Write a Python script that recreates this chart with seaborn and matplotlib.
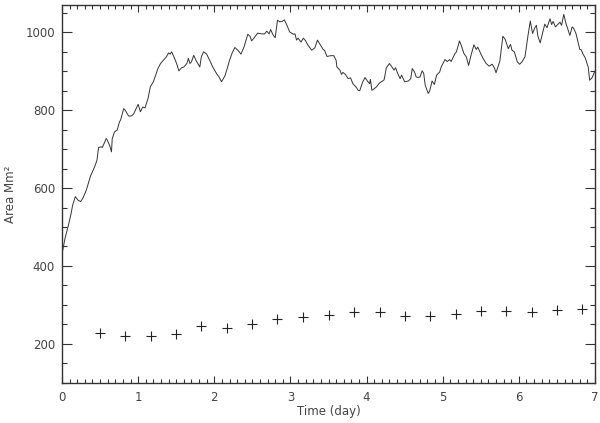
import matplotlib
matplotlib.use("Agg")
import matplotlib.pyplot as plt
import seaborn as sns
import pandas as pd
from matplotlib.ticker import MultipleLocator

# area curve (time in days, area in Mm^2)
time_day = [
    0.00, 0.04, 0.09, 0.12, 0.14, 0.175, 0.21, 0.245, 0.275, 0.32, 0.375, 0.43, 0.46, 0.48,
    0.515, 0.53, 0.58, 0.59, 0.625, 0.65, 0.66, 0.69, 0.725, 0.755, 0.77, 0.81, 0.83, 0.875,
    0.91, 0.94, 1.00, 1.03, 1.06, 1.09, 1.13, 1.16, 1.20, 1.23, 1.26, 1.295, 1.33, 1.37, 1.40,
    1.42, 1.44, 1.47, 1.505, 1.535, 1.57, 1.60, 1.64, 1.66, 1.68, 1.70, 1.73, 1.76, 1.81, 1.83,
    1.86, 1.90, 1.94, 1.98, 2.03, 2.06, 2.095, 2.14, 2.17, 2.20, 2.235, 2.27, 2.31, 2.35, 2.39,
    2.44, 2.47, 2.49, 2.52, 2.57, 2.62, 2.66, 2.69, 2.72, 2.74, 2.77, 2.80, 2.83, 2.86, 2.89,
    2.92, 2.95, 2.99, 3.04, 3.06, 3.08, 3.10, 3.14, 3.17, 3.20, 3.23, 3.28, 3.32, 3.355, 3.38,
    3.41, 3.43, 3.45, 3.48, 3.53, 3.57, 3.60, 3.61, 3.65, 3.67, 3.69, 3.72, 3.76, 3.79, 3.82,
    3.86, 3.89, 3.91, 3.95, 3.98, 4.01, 4.04, 4.05, 4.07, 4.10, 4.13, 4.17, 4.21, 4.23, 4.26,
    4.30, 4.33, 4.36, 4.38, 4.41, 4.44, 4.46, 4.50, 4.55, 4.58, 4.60, 4.63, 4.65, 4.67, 4.70,
    4.73, 4.75, 4.77, 4.81, 4.83, 4.86, 4.89, 4.92, 4.96, 4.98, 5.03, 5.06, 5.09, 5.11, 5.16,
    5.18, 5.22, 5.24, 5.28, 5.31, 5.34, 5.37, 5.41, 5.44, 5.46, 5.50, 5.53, 5.57, 5.61, 5.65,
    5.68, 5.70, 5.75, 5.79, 5.82, 5.86, 5.89, 5.91, 5.94, 5.98, 6.01, 6.04, 6.08, 6.12, 6.15,
    6.18, 6.21, 6.23, 6.25, 6.28, 6.32, 6.34, 6.37, 6.39, 6.41, 6.43, 6.45, 6.48, 6.51, 6.54,
    6.56, 6.59, 6.62, 6.67, 6.70, 6.72, 6.75, 6.80, 6.82, 6.84, 6.87, 6.91, 6.93, 6.96, 7.00,
]
area = [
    430, 471, 509, 535, 556, 578, 569, 565, 574, 595, 631, 655, 672, 704,
    706, 704, 727, 725, 710, 693, 727, 744, 749, 770, 775, 804, 800, 785,
    785, 790, 815, 796, 808, 806, 830, 860, 873, 890, 907, 920, 928, 937, 947,
    944, 950, 937, 920, 901, 909, 911, 920, 933, 920, 924, 941, 928, 911, 937,
    950, 944, 928, 911, 894, 886, 873, 888, 907, 928, 947, 961, 954, 944, 962,
    995, 990, 978, 985, 998, 996, 996, 1003, 996, 1007, 994, 986, 1031, 1027, 1028,
    1032, 1020, 1001, 995, 996, 980, 985, 975, 985, 978, 967, 954, 960, 980, 972,
    962, 956, 953, 938, 940, 940, 928, 911, 903, 892, 897, 892, 881, 883, 868,
    860, 851, 850, 873, 884, 875, 868, 879, 851, 855, 860, 870, 875, 878, 909,
    920, 912, 903, 909, 894, 881, 890, 873, 875, 881, 907, 898, 886, 884, 885,
    901, 895, 864, 843, 850, 875, 866, 890, 898, 911, 930, 925, 930, 925, 945,
    950, 978, 968, 945, 937, 915, 940, 968, 956, 962, 945, 933, 920, 913, 918,
    908, 896, 926, 990, 982, 958, 969, 954, 950, 924, 918, 924, 937, 992, 1029,
    997, 1012, 1018, 990, 973, 1005, 1021, 1012, 1024, 1035, 1020, 1028, 1014, 1020, 1026,
    1018, 1046, 1022, 992, 1014, 1010, 997, 956, 955, 945, 935, 911, 877, 883, 901,
]

# sampled points (+ markers)
sample_day = [0.50, 0.83, 1.17, 1.50, 1.83, 2.17, 2.50, 2.83, 3.17, 3.50,
              3.83, 4.17, 4.50, 4.83, 5.17, 5.50, 5.83, 6.17, 6.50, 6.83]
sample_area = [227, 219, 219, 225, 246, 241, 251, 264, 270, 274,
               281, 281, 272, 272, 277, 284, 284, 282, 287, 289]

curve = pd.DataFrame({"time": time_day, "area": area})
samples = pd.DataFrame({"time": sample_day, "area": sample_area})

sns.set_style("ticks")
plt.rcParams["font.family"] = ["DejaVu Sans"]
text_col = "#444444"

fig = plt.figure(figsize=(6, 4.23), dpi=100)
ax = fig.add_axes([0.1033, 0.0953, 0.8884, 0.8927])

sns.lineplot(data=curve, x="time", y="area", ax=ax, color="#333333",
             linewidth=0.7, estimator=None, sort=False)
ax.plot(samples["time"], samples["area"], linestyle="none", marker="+",
        markersize=7, markeredgewidth=0.8, color="#222222")

ax.set_xlim(0, 7)
ax.set_ylim(100, 1070)
ax.xaxis.set_major_locator(MultipleLocator(1))
ax.xaxis.set_minor_locator(MultipleLocator(0.1))
ax.yaxis.set_major_locator(MultipleLocator(200))
ax.yaxis.set_minor_locator(MultipleLocator(50))

ax.tick_params(axis="both", which="both", direction="in",
               bottom=True, top=True, left=True, right=True,
               color="#333333", width=0.8, labelsize=8.5, labelcolor=text_col)
ax.tick_params(axis="x", which="major", length=5, pad=6)
ax.tick_params(axis="x", which="minor", length=2.6)
ax.tick_params(axis="y", which="major", length=7.2, pad=5)
ax.tick_params(axis="y", which="minor", length=3.6)

for side in ax.spines.values():
    side.set_visible(True)
    side.set_color("#333333")
    side.set_linewidth(1.0)

ax.set_xlabel("Time (day)", fontsize=8.5, color=text_col, labelpad=1)
ax.set_ylabel("Area Mm²", fontsize=8.5, color=text_col, labelpad=6)

fig.savefig("out.png", dpi=100)
